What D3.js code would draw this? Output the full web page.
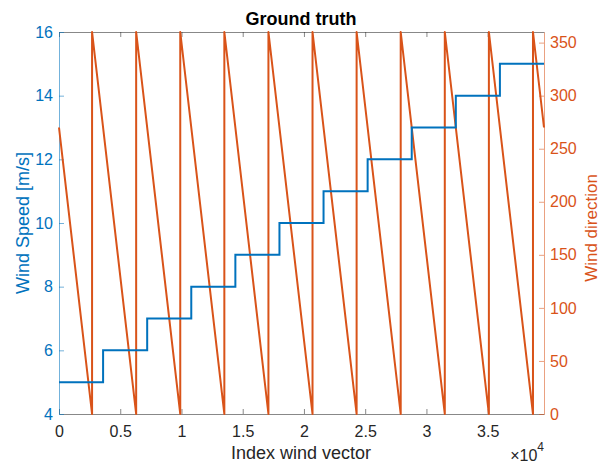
<!DOCTYPE html>
<html>
<head>
<meta charset="utf-8">
<script src="https://cdn.jsdelivr.net/npm/d3@7"></script>
<style>
  body { margin: 0; background: #fff; }
  text { font-family: "Liberation Sans", Arial, sans-serif; }
</style>
</head>
<body>
<script>
// wind speed: one step every 3600 samples
const speedIndex = [0, 3600, 7200, 10800, 14400, 18000, 21600, 25200, 28800, 32400, 36000, 39600];
const speedValues = [5, 6, 7, 8, 9, 10, 11, 12, 13, 14, 15, 15];

// wind direction: sawtooth vertices (index, degrees)
const dirIndex = [0, 2700, 2700, 6300, 6300, 9900, 9900, 13500, 13500, 17100, 17100, 20700,
  20700, 24300, 24300, 27900, 27900, 31500, 31500, 35100, 35100, 38700, 38700, 39600];
const dirValues = [270, 0, 360, 0, 360, 0, 360, 0, 360, 0, 360, 0,
  360, 0, 360, 0, 360, 0, 360, 0, 360, 0, 360, 270];

const xTicks = [0, 5000, 10000, 15000, 20000, 25000, 30000, 35000];
const xTickLabels = ["0", "0.5", "1", "1.5", "2", "2.5", "3", "3.5"];
const leftTicks = [4, 6, 8, 10, 12, 14, 16];
const rightTicks = [0, 50, 100, 150, 200, 250, 300, 350];

const width = 600, height = 464;
const margin = {top: 32, right: 56, bottom: 50, left: 59};
const blue = "#0072BD", orange = "#D95319", grey = "#262626";

const svg = d3.select("body").append("svg")
    .attr("width", width)
    .attr("height", height);

const x = d3.scaleLinear().domain([0, 39600]).range([margin.left, width - margin.right]);
const yL = d3.scaleLinear().domain([4, 16]).range([height - margin.bottom, margin.top]);
const yR = d3.scaleLinear().domain([0, 360]).range([height - margin.bottom, margin.top]);

const fmt = i => xTickLabels[xTicks.indexOf(i)];

// axes
function style(g, color) {
  g.select(".domain").attr("stroke", color).attr("stroke-opacity", 0.55);
  g.selectAll(".tick line").attr("stroke", color).attr("stroke-opacity", 0.55);
  g.selectAll(".tick text").attr("fill", color).attr("font-size", 16)
    .attr("font-family", "Liberation Sans, Arial, sans-serif");
}

svg.append("g")
    .attr("transform", `translate(0,${height - margin.bottom})`)
    .call(d3.axisBottom(x).tickValues(xTicks).tickFormat(fmt).tickSizeInner(-5).tickSizeOuter(0).tickPadding(12))
    .call(g => style(g, grey));

svg.append("g")
    .attr("transform", `translate(0,${margin.top})`)
    .call(d3.axisTop(x).tickValues(xTicks).tickFormat("").tickSizeInner(-5).tickSizeOuter(0))
    .call(g => style(g, grey));

svg.append("g")
    .attr("transform", `translate(${margin.left},0)`)
    .call(d3.axisLeft(yL).tickValues(leftTicks).tickSizeInner(-5).tickSizeOuter(0).tickPadding(6))
    .call(g => style(g, blue));

svg.append("g")
    .attr("transform", `translate(${width - margin.right},0)`)
    .call(d3.axisRight(yR).tickValues(rightTicks).tickSizeInner(-5).tickSizeOuter(0).tickPadding(6))
    .call(g => style(g, orange));

// lines
const dirLine = d3.line()
    .x((d, i) => x(dirIndex[i]))
    .y(d => yR(d));

svg.append("path")
    .datum(dirValues)
    .attr("fill", "none")
    .attr("stroke", orange)
    .attr("stroke-width", 2)
    .attr("stroke-linejoin", "round")
    .attr("d", dirLine);

const speedLine = d3.line()
    .curve(d3.curveStepAfter)
    .x((d, i) => x(speedIndex[i]))
    .y(d => yL(d));

svg.append("path")
    .datum(speedValues)
    .attr("fill", "none")
    .attr("stroke", blue)
    .attr("stroke-width", 2)
    .attr("d", speedLine);

// labels
svg.append("text")
    .attr("x", 301).attr("y", 25)
    .attr("text-anchor", "middle")
    .attr("font-weight", "bold")
    .attr("font-size", 18)
    .attr("fill", "#000")
    .text("Ground truth");

svg.append("text")
    .attr("x", 301).attr("y", 459)
    .attr("text-anchor", "middle")
    .attr("font-size", 18)
    .attr("fill", grey)
    .text("Index wind vector");

const exp = svg.append("text")
    .attr("x", 544).attr("y", 461)
    .attr("text-anchor", "end")
    .attr("font-size", 16)
    .attr("fill", grey);
exp.append("tspan").text("\u00d710");
exp.append("tspan").attr("font-size", 12).attr("dy", -10).text("4");

svg.append("text")
    .attr("transform", "translate(29,223) rotate(-90)")
    .attr("text-anchor", "middle")
    .attr("font-size", 18)
    .attr("fill", blue)
    .text("Wind Speed [m/s]");

svg.append("text")
    .attr("transform", "translate(597,228) rotate(-90)")
    .attr("text-anchor", "middle")
    .attr("font-size", 17)
    .attr("fill", orange)
    .text("Wind direction");
</script>
</body>
</html>
